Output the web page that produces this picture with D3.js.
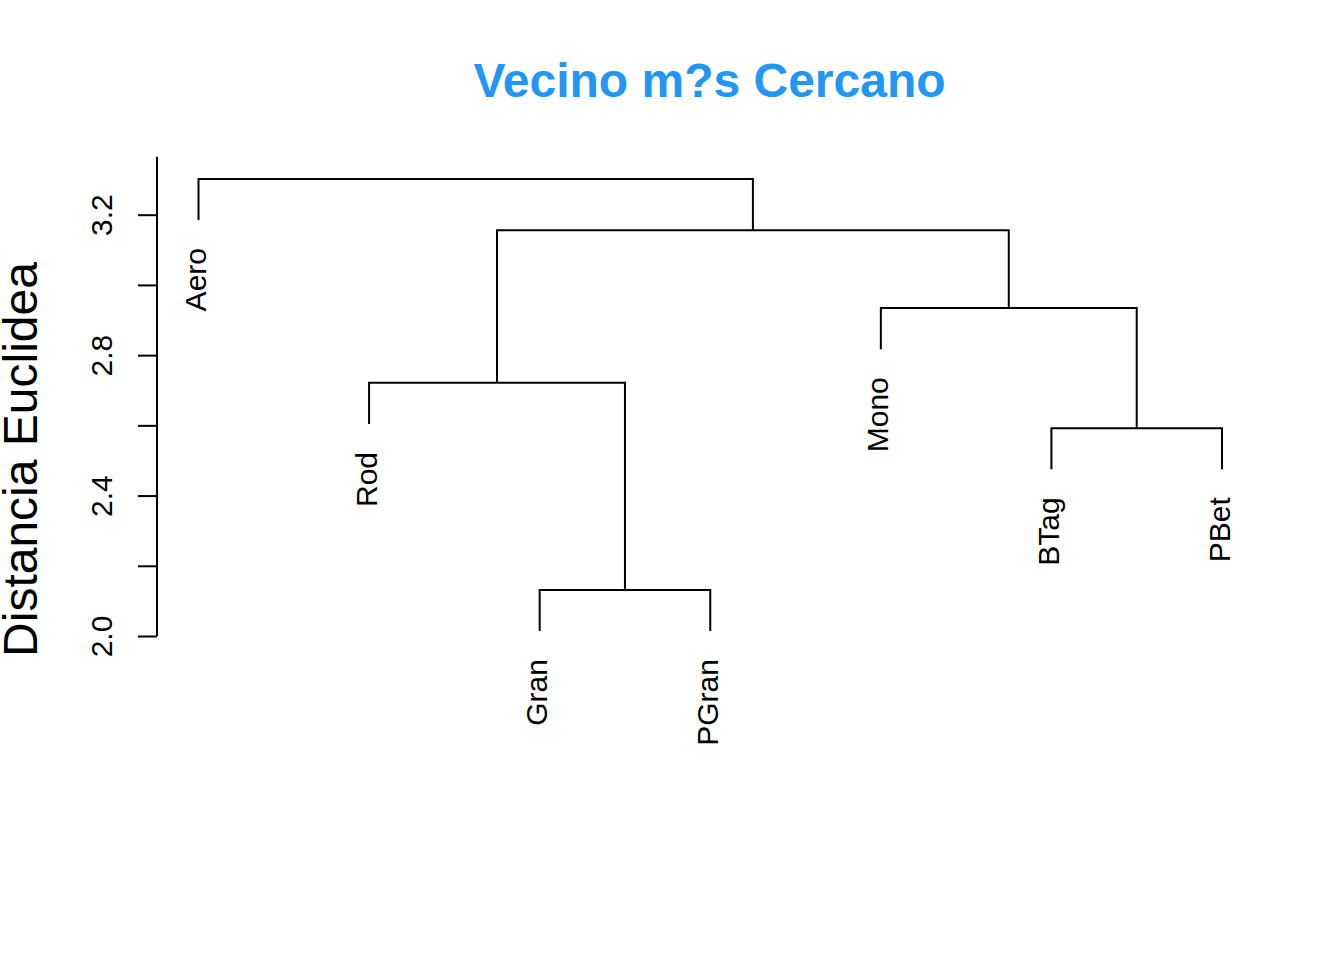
<!DOCTYPE html>
<html>
<head>
<meta charset="utf-8">
<script src="https://cdn.jsdelivr.net/npm/d3@7"></script>
<style>
  html, body { margin: 0; padding: 0; background: #fff; }
  svg { display: block; font-family: "Liberation Sans", Arial, sans-serif; }
</style>
</head>
<body>
<svg id="chart" width="1344" height="960"></svg>
<script>
// ---- Data ----
const leafOrder = ["Aero", "Rod", "Gran", "PGran", "Mono", "BTag", "PBet"];
// merges: [left child, right child, height]
const mergeNames   = ["m1", "m2", "m3", "m4", "m5", "m6"];
const mergeLeft    = ["Gran", "BTag", "Rod", "Mono", "m3", "Aero"];
const mergeRight   = ["PGran", "PBet", "m1", "m2", "m4", "m5"];
const mergeHeights = [2.131, 2.592, 2.721, 2.934, 3.156, 3.302];
const yTicks = [2.0, 2.2, 2.4, 2.6, 2.8, 3.0, 3.2];
const yTickLabels = ["2.0", "", "2.4", "", "2.8", "", "3.2"];
const titleText = "Vecino m?s Cercano";
const yLabelText = "Distancia Euclidea";

// ---- Layout ----
const svg = d3.select("#chart");
const x = d3.scalePoint().domain(leafOrder).range([198.5, 1222]);
const y = d3.scaleLinear().domain([2.0, 3.2]).range([636, 214.7]);
const hang = 0.1 * (d3.max(mergeHeights) - d3.min(mergeHeights));
const axisTop = 3.365;

// Build hierarchy
const nodes = {};
leafOrder.forEach(n => nodes[n] = { name: n, leaf: true });
mergeNames.forEach((m, i) => {
  nodes[m] = { name: m, leaf: false, height: mergeHeights[i],
    children: [nodes[mergeLeft[i]], nodes[mergeRight[i]]] };
});
const root = d3.hierarchy(nodes[mergeNames[mergeNames.length - 1]], d => d.children);
root.eachAfter(d => {
  if (!d.children) { d.px = x(d.data.name); }
  else { d.px = d3.mean(d.children, c => c.px); d.h = d.data.height; }
});
root.each(d => { if (!d.children) d.h = d.parent.data.height - hang; });

// Draw elbows
const g = svg.append("g").attr("stroke", "#000").attr("stroke-width", 2).attr("fill", "none");
root.each(d => {
  if (!d.children) return;
  const [a, b] = d.children;
  g.append("path")
    .attr("d", `M${a.px},${y(a.h)}V${y(d.h)}H${b.px}V${y(b.h)}`)
    .attr("stroke-linecap", "butt").attr("stroke-linejoin", "miter");
});

// Leaf labels
root.leaves().forEach(d => {
  const ly = y(d.h) + 28;
  svg.append("text")
    .attr("transform", `translate(${d.px + 7.5},${ly}) rotate(-90)`)
    .attr("text-anchor", "end")
    .attr("font-size", 30)
    .attr("fill", "#000")
    .text(d.data.name);
});

// Y axis
const axisG = svg.append("g").attr("transform", "translate(157,0)");
const axis = d3.axisLeft(y).tickValues(yTicks).tickSize(19).tickSizeOuter(0).tickFormat((d, i) => yTickLabels[i]);
axisG.call(axis);
axisG.select(".domain").attr("d", `M0,${y(2.0)}V${y(axisTop)}`).attr("stroke", "#000").attr("stroke-width", 2);
axisG.selectAll(".tick line").attr("stroke", "#000").attr("stroke-width", 2);
axisG.selectAll(".tick text")
  .attr("x", null).attr("dy", null)
  .attr("transform", "translate(-45.5,0) rotate(-90)")
  .attr("text-anchor", "middle")
  .attr("font-size", 30)
  .attr("font-family", "Liberation Sans, Arial, sans-serif")
  .attr("fill", "#000");

// Title
svg.append("text")
  .attr("x", 709.5).attr("y", 97)
  .attr("text-anchor", "middle")
  .attr("font-size", 48).attr("font-weight", "bold")
  .attr("fill", "#2196F3")
  .text(titleText);

// Y label
svg.append("text")
  .attr("transform", `translate(36.5,459.5) rotate(-90)`)
  .attr("text-anchor", "middle")
  .attr("font-size", 48)
  .attr("fill", "#000")
  .text(yLabelText);
</script>
</body>
</html>
